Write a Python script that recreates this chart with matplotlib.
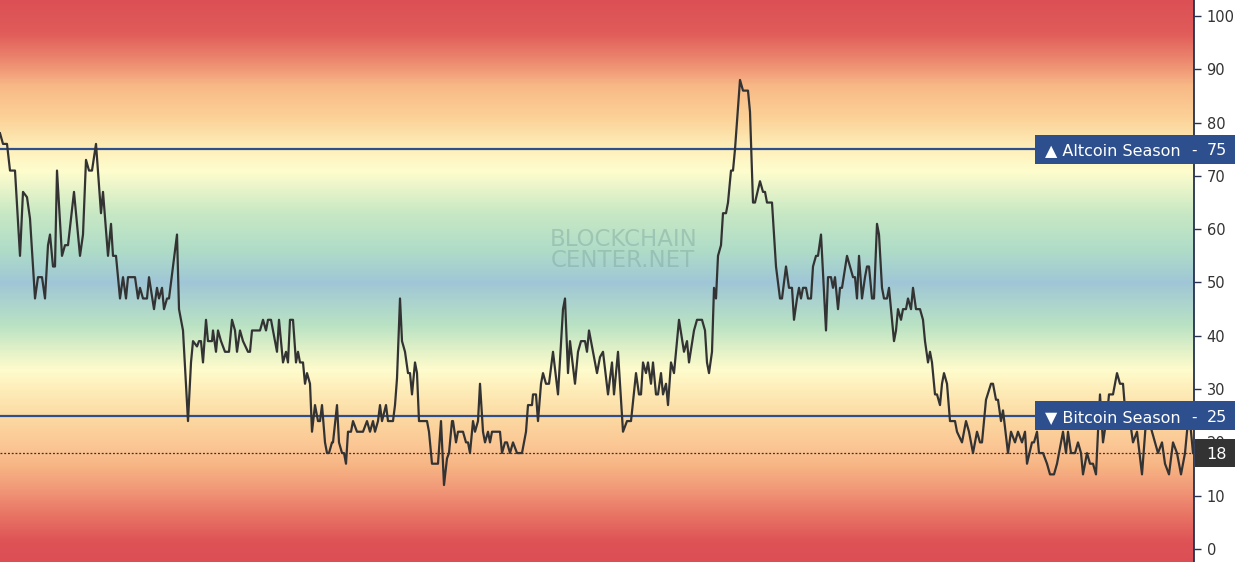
import numpy as np
import matplotlib
matplotlib.use('Agg')
import matplotlib.pyplot as plt
import matplotlib.transforms as mtransforms
from matplotlib.colors import LinearSegmentedColormap
from matplotlib.patches import Rectangle

# altcoin season index (x = day counter)
day = [0, 3, 7, 10, 15, 20, 23, 27, 30, 35, 38, 42, 45, 48, 50, 53, 55, 57, 62, 65, 68, 74,
       80, 83, 86, 89, 92, 96, 101, 103, 108, 111, 113, 116, 120, 123, 126, 128, 135, 138,
       140, 143, 147, 149, 154, 157, 159, 162, 164, 167, 169, 177, 179,
       183, 188, 191, 193, 197, 199, 201, 203, 206, 208, 212, 213, 216, 218, 221, 225, 229,
       232, 235, 237, 240, 243, 248, 250, 252, 260, 263, 266, 268, 271, 275, 277, 279, 283,
       286, 288, 290, 293, 296, 298, 300, 303, 305, 307, 310, 312, 315, 318, 320, 322, 325,
       327, 329, 332, 333, 337, 339, 342, 344, 346, 348, 351, 353, 357, 363, 367, 370, 373,
       375, 378, 380, 382, 386, 388, 393, 395, 397, 400, 402, 405, 408, 410, 412, 415, 417,
       419, 427, 429, 432, 438, 441, 444, 447, 449, 452, 453, 456, 458, 463, 466, 468, 470,
       473, 475, 478, 480, 483, 485, 488, 490, 492, 498, 500, 502, 505, 507, 510, 513, 517,
       522, 526, 528, 532, 533, 536, 538, 541, 543, 546, 549, 553, 558, 563, 565, 568, 570,
       575, 578, 581, 585, 587, 589, 593, 597, 600, 603, 608, 612, 614, 618, 623, 627, 631,
       636, 639, 641, 643, 646, 648, 651, 653, 656, 658, 661, 663, 666, 668, 671, 674, 679,
       684, 687, 689, 694, 697, 702, 705, 707, 709, 712, 714, 716, 718, 721, 723, 726, 728,
       731, 733, 735, 740, 743, 748, 750, 753, 755, 760, 763, 765, 767, 772, 776, 780, 782,
       786, 789, 792, 794, 797, 799, 801, 803, 806, 808, 811, 813, 816, 818, 821, 826, 828,
       831, 833, 835, 838, 840, 842, 847, 850, 853, 855, 857, 859, 862, 865, 867, 869, 872,
       874, 877, 879, 882, 884, 887, 889, 891, 894, 896, 898, 901, 903, 906, 908, 911, 913,
       916, 920, 923, 925, 928, 930, 932, 935, 937, 940, 942, 944, 947, 950, 955, 957, 962,
       966, 969, 973, 977, 980, 982, 986, 991, 993, 996, 998, 1001, 1003, 1008, 1011, 1015,
       1018, 1022, 1025, 1027, 1032, 1034, 1037, 1039, 1043, 1047, 1050, 1054, 1057, 1061,
       1063, 1066, 1068, 1071, 1075, 1078, 1081, 1083, 1087, 1090, 1093, 1096, 1098, 1100,
       1103, 1107, 1109, 1113, 1117, 1120, 1123, 1126, 1130, 1133, 1137, 1142, 1146, 1149,
       1152, 1155, 1158, 1162, 1165, 1169, 1173, 1177, 1181, 1185, 1189, 1193]
index_value = [78, 76, 76, 71, 71, 55, 67, 66, 62, 47, 51, 51, 47, 57, 59, 53, 53, 71, 55, 57, 57, 67,
               55, 59, 73, 71, 71, 76, 63, 67, 55, 61, 55, 55, 47, 51, 47, 51, 51, 47,
               49, 47, 47, 51, 45, 49, 47, 49, 45, 47, 47, 59, 45,
               41, 24, 35, 39, 38, 39, 39, 35, 43, 39, 39, 41, 37, 41, 39, 37, 37,
               43, 41, 37, 41, 39, 37, 37, 41, 41, 43, 41, 43, 43, 39, 37, 43, 35,
               37, 35, 43, 43, 35, 37, 35, 35, 31, 33, 31, 22, 27, 24, 24, 27, 20,
               18, 18, 20, 20, 27, 20, 18, 18, 16, 22, 22, 24, 22, 22, 24, 22, 24,
               22, 24, 27, 24, 27, 24, 24, 27, 32, 47, 39, 37, 33, 33, 29, 35, 33,
               24, 24, 22, 16, 16, 24, 12, 17, 18, 24, 24, 20, 22, 22, 20, 20, 18,
               24, 22, 24, 31, 22, 20, 22, 20, 22, 22, 22, 18, 20, 20, 18, 20, 18,
               18, 22, 27, 27, 29, 29, 24, 31, 33, 31, 31, 37, 29, 45, 47, 33, 39,
               31, 37, 39, 39, 37, 41, 37, 33, 36, 37, 29, 35, 29, 37, 22, 24, 24,
               33, 29, 29, 35, 33, 35, 31, 35, 29, 29, 33, 29, 31, 27, 35, 33, 43,
               37, 39, 35, 41, 43, 43, 41, 35, 33, 37, 49, 47, 55, 57, 63, 63, 65,
               71, 71, 75, 88, 86, 86, 82, 65, 65, 69, 67, 67, 65, 65, 53, 47, 47,
               53, 49, 49, 43, 47, 49, 47, 49, 49, 47, 47, 53, 55, 55, 59, 41, 51,
               51, 49, 51, 45, 49, 49, 55, 53, 51, 51, 47, 55, 47, 51, 53, 53, 47,
               47, 61, 59, 49, 47, 47, 49, 45, 39, 41, 45, 43, 45, 45, 47, 45, 49,
               45, 45, 43, 39, 35, 37, 35, 29, 29, 27, 31, 33, 31, 24, 24, 22, 20,
               24, 22, 18, 22, 20, 20, 28, 31, 31, 28, 28, 24, 26, 18, 22, 20,
               22, 20, 22, 16, 20, 20, 22, 18, 18, 16, 14, 14, 16, 20,
               22, 18, 22, 18, 18, 20, 18, 14, 18, 16, 16, 14, 22, 29,
               20, 25, 29, 29, 33, 31, 31, 24, 24, 20, 22, 14, 24, 24,
               22, 20, 18, 20, 16, 14, 20, 18, 14, 18, 26, 18]

ALT_LEVEL = 75
BTC_LEVEL = 25
CURRENT = 18

# background colour stops (index value -> rgb)
bg_levels = [-3, 1, 6, 11, 15, 19, 24, 30, 33.5, 37, 42, 50, 56, 63, 71, 75, 81, 87, 92, 97, 104]
bg_colors = [(220, 78, 84), (222, 82, 86), (232, 115, 100), (241, 152, 120), (247, 178, 130),
             (251, 198, 148), (252, 215, 160), (254, 238, 186), (255, 252, 205), (228, 242, 200),
             (185, 226, 196), (160, 198, 214), (175, 220, 200), (200, 232, 196), (255, 253, 205),
             (254, 240, 188), (252, 210, 152), (248, 185, 135), (236, 135, 110), (224, 92, 90),
             (220, 78, 84)]

NAVY = '#2d4f8e'
AXIS = '#24304f'

lo, hi = bg_levels[0], bg_levels[-1]
stops = [((v - lo) / (hi - lo), tuple(c / 255 for c in rgb)) for v, rgb in zip(bg_levels, bg_colors)]
cmap = LinearSegmentedColormap.from_list('season', stops)

fig = plt.figure(figsize=(12.45, 5.62), dpi=100)
ax = fig.add_axes([0, 0, 1194 / 1245, 1])
ymin, ymax = -2.44, 103.0
xmax = day[-1] + 1

grad = np.linspace(lo, hi, 600).reshape(-1, 1)
ax.imshow(grad, cmap=cmap, vmin=lo, vmax=hi, origin='lower', aspect='auto',
          extent=[0, xmax, lo, hi], zorder=0, interpolation='bicubic')

ax.text(0.522, 0.555, 'BLOCKCHAIN\nCENTER.NET', transform=ax.transAxes, ha='center', va='center',
        fontsize=16.5, color='#7ea59e', alpha=0.45, linespacing=0.9, zorder=1)

ax.axhline(ALT_LEVEL, color=NAVY, lw=1.6, zorder=2)
ax.axhline(BTC_LEVEL, color=NAVY, lw=1.6, zorder=2)
ax.axhline(CURRENT, color='#3a3030', lw=0.9, ls=(0, (1.5, 1.5)), zorder=2)

ax.plot(day, index_value, color='#333333', lw=1.6, zorder=3, solid_joinstyle='round')

ax.set_xlim(0, xmax)
ax.set_ylim(ymin, ymax)
ax.set_xticks([])
ax.yaxis.tick_right()
ax.set_yticks(range(0, 101, 10))
ax.tick_params(axis='y', direction='out', length=5, width=1, color=AXIS,
               labelsize=10.5, labelcolor='#333333', pad=4)
for s in ['top', 'left', 'bottom']:
    ax.spines[s].set_visible(False)
ax.spines['right'].set_color(AXIS)
ax.spines['right'].set_linewidth(1.3)

trans = mtransforms.blended_transform_factory(ax.transAxes, ax.transData)
x0 = 1035 / 1194
x1 = 1235 / 1194
xa = 1195 / 1194

for level, label in [(ALT_LEVEL, '\u25b2 Altcoin Season'), (BTC_LEVEL, '\u25bc Bitcoin Season')]:
    ax.add_patch(Rectangle((x0, level - 2.7), x1 - x0, 5.4, transform=trans, facecolor=NAVY,
                           edgecolor='none', clip_on=False, zorder=5))
    ax.text(1045 / 1194, level, label, transform=trans, ha='left', va='center_baseline',
            color='white', fontsize=11.5, zorder=6, clip_on=False)
    ax.text(1194 / 1194, level, '-', transform=trans, ha='center', va='center_baseline',
            color='white', fontsize=11, zorder=6, clip_on=False)
    ax.text(1217 / 1194, level, str(level), transform=trans, ha='center', va='center_baseline',
            color='white', fontsize=11.5, zorder=6, clip_on=False)

ax.add_patch(Rectangle((xa, CURRENT - 2.6), x1 - xa, 5.2, transform=trans, facecolor='#333333',
                       edgecolor='none', clip_on=False, zorder=5))
ax.text(1217 / 1194, CURRENT, str(CURRENT), transform=trans, ha='center', va='center_baseline',
        color='white', fontsize=11.5, zorder=6, clip_on=False)

fig.savefig('out.png', dpi=100)
